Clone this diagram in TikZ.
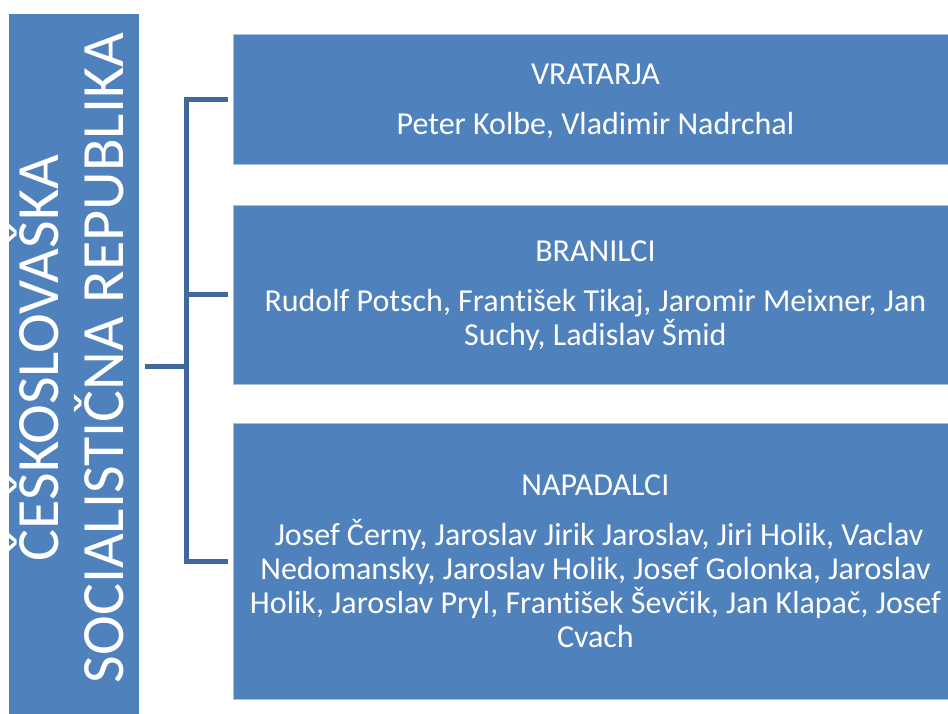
\documentclass[tikz,border=0pt]{standalone}
\usepackage{fontspec}
\setmainfont{Carlito}[Ligatures={NoCommon}]
\definecolor{boxblue}{HTML}{4F81BD}
\definecolor{linkblue}{HTML}{41689A}
\definecolor{rimblue}{HTML}{A9C0DE}
\tikzset{
  panel/.style={fill=boxblue, draw=rimblue, line width=0.8pt, inner sep=0pt, anchor=north west},
  namestext/.style={text=white, align=center, inner sep=0pt, font=\fontsize{32}{34}\selectfont},
  bracketline/.style={draw=linkblue, line width=5pt, line join=miter}
}
\begin{document}
\begin{tikzpicture}[x=1pt,y=-1pt]
\useasboundingbox (0,0) rectangle (948,714);
% left box
\node[panel, draw=none, minimum width=130pt, minimum height=700pt] (country) at (9,14) {};
\node[text=white, rotate=90, align=center, font=\fontsize{60}{65}\selectfont] (countrytext) at (67,358)
  {ČEŠKOSLOVAŠKA\\SOCIALISTIČNA REPUBLIKA};
% right boxes
\node[panel, minimum width=716pt, minimum height=130pt] (gk) at (233,34) {};
\node[panel, minimum width=716pt, minimum height=179pt] (def) at (233,205) {};
\node[panel, minimum width=716pt, minimum height=276pt] (fwd) at (233,423) {};
\node[namestext] (gktext) at ([xshift=4pt,yshift=-2pt]gk.center)
  {VRATARJA\\[16pt]Peter Kolbe, Vladimir Nadrchal};
\node[namestext] (deftext) at ([xshift=4pt,yshift=-1pt]def.center)
  {BRANILCI\\[16pt]Rudolf Potsch, František Tikaj, Jaromir Meixner, Jan\\Suchy, Ladislav Šmid};
\node[namestext] (fwdtext) at ([xshift=4pt]fwd.center)
  {NAPADALCI\\[16pt]\ Josef Černy, Jaroslav Jirik Jaroslav, Jiri Holik, Vaclav\\Nedomansky, Jaroslav Holik, Josef Golonka, Jaroslav\\Holik, Jaroslav Pryl, František Ševčik, Jan Klapač, Josef\\Cvach};
% bracket
\coordinate (j) at (186.5,366.5);
\draw[bracketline] ([xshift=5pt]country.east |- j) -- (j);
\draw[bracketline] ([xshift=-5pt]gk.west) -| (j) |- ([xshift=-5pt]fwd.west);
\draw[bracketline] (j |- def.west) -- ([xshift=-5pt]def.west);
\end{tikzpicture}
\end{document}
